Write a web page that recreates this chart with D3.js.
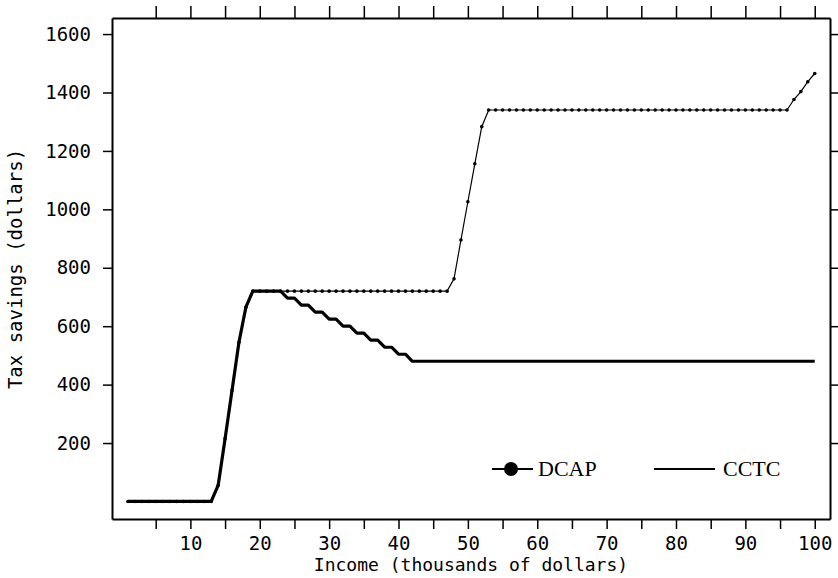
<!DOCTYPE html>
<html>
<head>
<meta charset="utf-8">
<script src="https://cdn.jsdelivr.net/npm/d3@7"></script>
<style>
  body { margin: 0; background: #fff; }
  .axis text { font-family: "DejaVu Sans Mono", monospace; font-size: 19px; fill: #000; }
  .axis path, .axis line { stroke: #000; }
  .axis path { stroke-width: 2; }
  .axis line { stroke-width: 1.5; }
  .lab { font-family: "DejaVu Sans Mono", monospace; font-size: 18px; fill: #000; }
  .ylab { font-size: 19px; }
  .leg { font-family: "Liberation Serif", "Times New Roman", serif; font-size: 22px; fill: #000; }
</style>
</head>
<body>
<div id="chart"></div>
<script>
// income, thousands of dollars
var income = [
  1, 2, 3, 4, 5, 6, 7, 8, 9, 10,
  11, 12, 13, 14, 15, 16, 17, 18, 19, 20,
  21, 22, 23, 24, 25, 26, 27, 28, 29, 30,
  31, 32, 33, 34, 35, 36, 37, 38, 39, 40,
  41, 42, 43, 44, 45, 46, 47, 48, 49, 50,
  51, 52, 53, 54, 55, 56, 57, 58, 59, 60,
  61, 62, 63, 64, 65, 66, 67, 68, 69, 70,
  71, 72, 73, 74, 75, 76, 77, 78, 79, 80,
  81, 82, 83, 84, 85, 86, 87, 88, 89, 90,
  91, 92, 93, 94, 95, 96, 97, 98, 99, 100
];

// tax savings (dollars)
var dcap = [
  0, 0, 0, 0, 0, 0, 0, 0, 0, 0,
  0, 0, 0, 55, 215, 380, 545, 665, 720, 720,
  720, 720, 720, 720, 720, 720, 720, 720, 720, 720,
  720, 720, 720, 720, 720, 720, 720, 720, 720, 720,
  720, 720, 720, 720, 720, 720, 720, 762, 895, 1026,
  1156, 1283, 1340, 1340, 1340, 1340, 1340, 1340, 1340, 1340,
  1340, 1340, 1340, 1340, 1340, 1340, 1340, 1340, 1340, 1340,
  1340, 1340, 1340, 1340, 1340, 1340, 1340, 1340, 1340, 1340,
  1340, 1340, 1340, 1340, 1340, 1340, 1340, 1340, 1340, 1340,
  1340, 1340, 1340, 1340, 1340, 1340, 1376, 1403, 1437, 1465
];

var cctc = [
  0, 0, 0, 0, 0, 0, 0, 0, 0, 0,
  0, 0, 0, 55, 215, 380, 545, 665, 720, 720,
  720, 720, 720, 696, 696, 672, 672, 648, 648, 624,
  624, 600, 600, 576, 576, 552, 552, 528, 528, 504,
  504, 480, 480, 480, 480, 480, 480, 480, 480, 480,
  480, 480, 480, 480, 480, 480, 480, 480, 480, 480,
  480, 480, 480, 480, 480, 480, 480, 480, 480, 480,
  480, 480, 480, 480, 480, 480, 480, 480, 480, 480,
  480, 480, 480, 480, 480, 480, 480, 480, 480, 480,
  480, 480, 480, 480, 480, 480, 480, 480, 480, 480
];

var xTicks = [5, 10, 15, 20, 25, 30, 35, 40, 45, 50, 55, 60, 65, 70, 75, 80, 85, 90, 95, 100];
var yTicks = [200, 400, 600, 800, 1000, 1200, 1400, 1600];

var W = 838, H = 578;
var pLeft = 112, pRight = 830, pTop = 18, pBottom = 519;

var svg = d3.select("#chart").append("svg").attr("width", W).attr("height", H);

var x = d3.scaleLinear().domain([-1.3, 102.2]).range([pLeft, pRight]);
var y = d3.scaleLinear().domain([-60, 1655]).range([pBottom, pTop]);

// frame + ticks
svg.append("g").attr("class", "axis")
    .attr("transform", "translate(0," + pBottom + ")")
    .call(d3.axisBottom(x).tickValues(xTicks).tickSize(10).tickSizeOuter(0).tickPadding(8)
        .tickFormat(function (d) { return d % 10 === 0 ? d : ""; }));

svg.append("g").attr("class", "axis")
    .attr("transform", "translate(0," + pTop + ")")
    .call(d3.axisTop(x).tickValues(xTicks).tickSize(12).tickSizeOuter(0).tickFormat(""));

svg.append("g").attr("class", "axis")
    .attr("transform", "translate(" + pLeft + ",0)")
    .call(d3.axisLeft(y).tickValues(yTicks).tickSize(9).tickSizeOuter(0).tickPadding(12)
        .tickFormat(d3.format("d")));

svg.append("g").attr("class", "axis")
    .attr("transform", "translate(" + pRight + ",0)")
    .call(d3.axisRight(y).tickValues(yTicks).tickSize(8).tickSizeOuter(0).tickFormat(""));

svg.append("text").attr("class", "lab")
    .attr("x", (pLeft + pRight) / 2).attr("y", 571)
    .attr("text-anchor", "middle")
    .text("Income (thousands of dollars)");

svg.append("text").attr("class", "lab ylab")
    .attr("transform", "translate(22,269) rotate(-90)")
    .attr("text-anchor", "middle")
    .text("Tax savings (dollars)");

var line = d3.line()
    .x(function (d) { return x(d[0]); })
    .y(function (d) { return y(d[1]); });

var dcapPts = income.map(function (v, i) { return [v, dcap[i]]; });
var cctcPts = income.map(function (v, i) { return [v, cctc[i]]; });

svg.append("path").datum(dcapPts)
    .attr("d", line).attr("fill", "none")
    .attr("stroke", "#000").attr("stroke-width", 1.2);

svg.selectAll("circle.dot").data(dcapPts).enter().append("circle")
    .attr("class", "dot")
    .attr("cx", function (d) { return x(d[0]); })
    .attr("cy", function (d) { return y(d[1]); })
    .attr("r", 1.8)
    .attr("fill", "#000");

svg.append("path").datum(cctcPts)
    .attr("d", line).attr("fill", "none")
    .attr("stroke", "#000").attr("stroke-width", 3.2)
    .attr("stroke-linejoin", "round");

// legend
var leg = svg.append("g");
leg.append("line").attr("x1", 492).attr("x2", 533).attr("y1", 469).attr("y2", 469)
    .attr("stroke", "#000").attr("stroke-width", 2);
leg.append("circle").attr("cx", 511).attr("cy", 469).attr("r", 7).attr("fill", "#000");
leg.append("text").attr("class", "leg").attr("x", 538).attr("y", 476).text("DCAP");
leg.append("line").attr("x1", 654).attr("x2", 715).attr("y1", 469).attr("y2", 469)
    .attr("stroke", "#000").attr("stroke-width", 2);
leg.append("text").attr("class", "leg").attr("x", 723).attr("y", 476).text("CCTC");
</script>
</body>
</html>
